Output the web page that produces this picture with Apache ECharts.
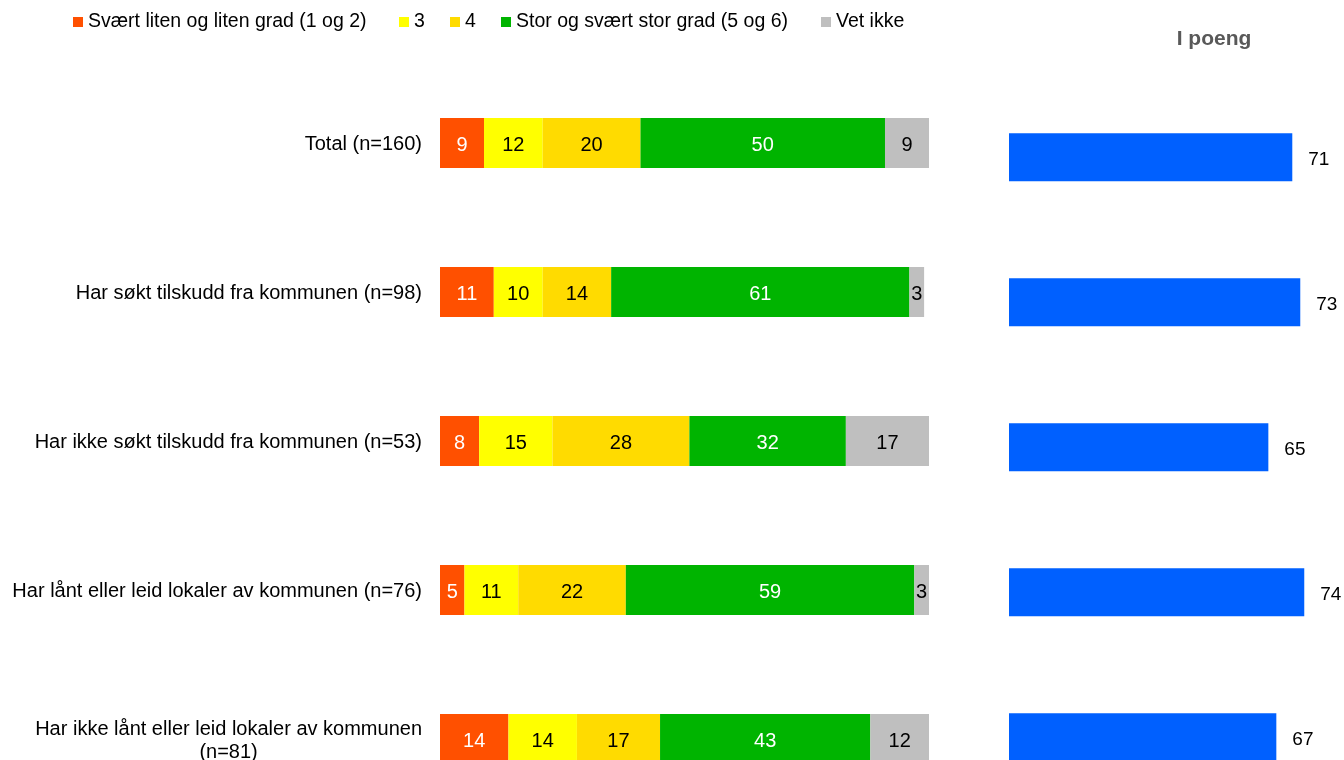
<!DOCTYPE html>
<html>
<head>
<meta charset="utf-8">
<title>I poeng</title>
<script src="https://cdn.jsdelivr.net/npm/echarts@6/dist/echarts.min.js"></script>
<style>
  html, body { margin: 0; padding: 0; background: #fff; }
  #main { width: 1344px; height: 760px; }
</style>
</head>
<body>
<div id="main"></div>
<script>
// data
var categories = [
  'Total (n=160)',
  'Har søkt tilskudd fra kommunen (n=98)',
  'Har ikke søkt tilskudd fra kommunen (n=53)',
  'Har lånt eller leid lokaler av kommunen (n=76)',
  'Har ikke lånt eller leid lokaler av kommunen\n(n=81)'
];
var seriesNames = ['Svært liten og liten grad (1 og 2)', '3', '4', 'Stor og svært stor grad (5 og 6)', 'Vet ikke'];
var lowGrade = [9, 11, 8, 5, 14];
var grade3 = [12, 10, 15, 11, 14];
var grade4 = [20, 14, 28, 22, 17];
var highGrade = [50, 61, 32, 59, 43];
var dontKnow = [9, 3, 17, 3, 12];
var points = [71, 73, 65, 74, 67];

var colors = ['#FF5000', '#FFFF00', '#FFDB00', '#00B400', '#BFBFBF'];
var labelColors = ['#fff', '#000', '#000', '#fff', '#000'];
var legendLeft = [73, 399, 450, 501, 821];
var font = 'Liberation Sans, Arial, sans-serif';

var myChart = echarts.init(document.getElementById('main'));

var stackData = [lowGrade, grade3, grade4, highGrade, dontKnow];

var series = [];
var legends = [];
for (var i = 0; i < seriesNames.length; i++) {
    series.push({
        name: seriesNames[i],
        type: 'bar',
        stack: 'share',
        xAxisIndex: 0,
        yAxisIndex: 0,
        barWidth: 50,
        itemStyle: { color: colors[i] },
        label: {
            show: true,
            position: 'inside',
            offset: [0, 2],
            color: labelColors[i],
            fontSize: 20,
            fontFamily: font
        },
        data: stackData[i]
    });
    legends.push({
        left: legendLeft[i],
        top: 12,
        padding: 0,
        icon: 'rect',
        itemWidth: 10,
        itemHeight: 10,
        selectedMode: false,
        textStyle: { fontSize: 19.5, fontFamily: font, color: '#000', lineHeight: 20 },
        data: [seriesNames[i]]
    });
}

series.push({
    name: 'I poeng',
    type: 'bar',
    xAxisIndex: 1,
    yAxisIndex: 1,
    barWidth: 48,
    itemStyle: { color: '#0060FF' },
    label: {
        show: true,
        position: 'right',
        distance: 16,
        offset: [0, 2],
        color: '#000',
        fontSize: 19,
        fontFamily: font
    },
    data: points
});

var option = {
    animation: false,
    textStyle: { fontFamily: font },
    title: {
        text: 'I poeng',
        left: 1214,
        top: 29,
        padding: 0,
        textAlign: 'center',
        textStyle: { fontSize: 21, fontWeight: 'bold', color: '#595959', fontFamily: font }
    },
    legend: legends,
    grid: [
        { left: 440, top: 68.5, width: 489, height: 745, outerBoundsMode: 'none' },
        { left: 1009, top: 84.8, width: 399, height: 725, outerBoundsMode: 'none' }
    ],
    xAxis: [
        { type: 'value', gridIndex: 0, min: 0, max: 100, show: false },
        { type: 'value', gridIndex: 1, min: 0, max: 100, show: false }
    ],
    yAxis: [
        {
            type: 'category',
            gridIndex: 0,
            inverse: true,
            data: categories,
            axisLine: { show: false },
            axisTick: { show: false },
            axisLabel: {
                margin: 18,
                fontSize: 20,
                color: '#000',
                align: 'right',
                lineHeight: 23,
                padding: [3, 0, 0, 0],
                formatter: function (v) {
                    if (v.indexOf('\n') < 0) return v;
                    return v.split('\n').map(function (s) { return '{c|' + s + '}'; }).join('\n');
                },
                rich: {
                    c: { align: 'center', fontSize: 20, color: '#000', lineHeight: 23, fontFamily: font }
                }
            }
        },
        {
            type: 'category',
            gridIndex: 1,
            inverse: true,
            data: categories,
            show: false
        }
    ],
    series: series
};

myChart.setOption(option);
</script>
</body>
</html>
